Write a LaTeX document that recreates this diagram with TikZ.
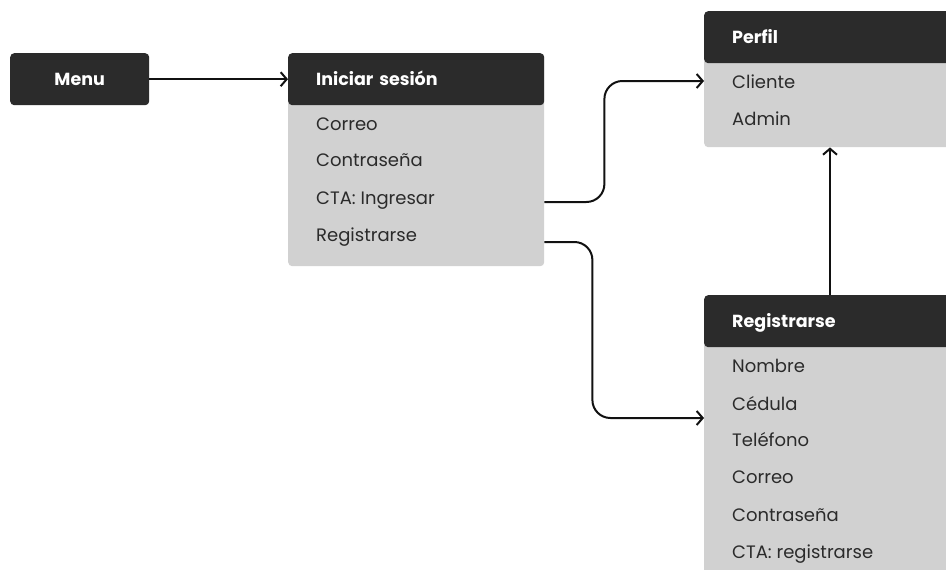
\documentclass[tikz,border=0pt]{standalone}
\usepackage{fontspec}
\setmainfont{Poppins}
\usepackage{xcolor}
\usepackage{tikz}
\usetikzlibrary{arrows.meta,positioning,calc}
\definecolor{headdark}{HTML}{2B2B2B}
\definecolor{bodygray}{HTML}{D1D1D1}
\definecolor{linkblack}{HTML}{111111}

\begin{document}
\begin{tikzpicture}[x=1pt, y=-1pt, every node/.style={font=\fontsize{18}{21}\selectfont}]
  % Screen flow: menu, login, profile and sign-up cards
  \tikzstyle{head} = [rectangle, rounded corners=4pt, fill=headdark, text=white, minimum height=52pt, text height=14pt, text depth=2pt, inner xsep=28pt, align=left, anchor=north west, font=\fontsize{17.5}{20}\selectfont\bfseries]
  \tikzstyle{card} = [rectangle, rounded corners=4pt, fill=bodygray, anchor=north west]
  \tikzstyle{item} = [inner sep=0pt, anchor=base west, text=headdark]
  \tikzstyle{link} = [draw=linkblack, line width=2pt, rounded corners=18pt, -{Straight Barb[length=6pt, width=14pt]}]

  \useasboundingbox (0,0) rectangle (946,570);
  \clip (0,0) rectangle (946,570);

  % Menu
  \node[head, minimum width=139pt, inner xsep=0pt, align=center, text width=139pt] (menu) at (10,53) {Menu};

  % Iniciar sesion card
  \node[card, minimum width=256pt, minimum height=213pt] (iniBody) at (288,53) {};
  \node[head, text width=200pt] (iniHead) at (288,53) {Iniciar sesión};
  \node[item] (iniCorreo) at (316,130) {Correo};
  \node[item] (iniClave) at (316,166) {Contraseña};
  \node[item] (iniCta) at (316,204) {CTA: Ingresar};
  \node[item] (iniReg) at (316,241) {Registrarse};

  % Perfil card
  \node[card, minimum width=270pt, minimum height=136pt] (perfilBody) at (704,11) {};
  \node[head, text width=214pt] (perfilHead) at (704,11) {Perfil};
  \node[item] (perfilCliente) at (732,88) {Cliente};
  \node[item] (perfilAdmin) at (732,125) {Admin};

  % Registrarse card
  \node[card, minimum width=270pt, minimum height=300pt] (regBody) at (704,295) {};
  \node[head, text width=214pt] (regHead) at (704,295) {Registrarse};
  \node[item] (regNombre) at (732,372) {Nombre};
  \node[item] (regCedula) at (732,410) {Cédula};
  \node[item] (regTelefono) at (732,446) {Teléfono};
  \node[item] (regCorreo) at (732,483) {Correo};
  \node[item] (regClave) at (732,521) {Contraseña};
  \node[item] (regCta) at (732,558) {CTA: registrarse};

  % Connectors
  \draw[link] (menu.east) -- (iniHead.west);
  \draw[link] ([yshift=2pt]iniCta.base -| iniBody.east) -- ++(60,0) |- ([yshift=7pt]perfilCliente.base -| perfilBody.west);
  \draw[link] ([yshift=-1pt]iniReg.base -| iniBody.east) -- ++(48,0) |- ([yshift=-8pt]regCedula.base -| regBody.west);
  \draw[link] ([xshift=126pt]regHead.north west) -- ([xshift=126pt]perfilBody.south west);
\end{tikzpicture}
\end{document}
